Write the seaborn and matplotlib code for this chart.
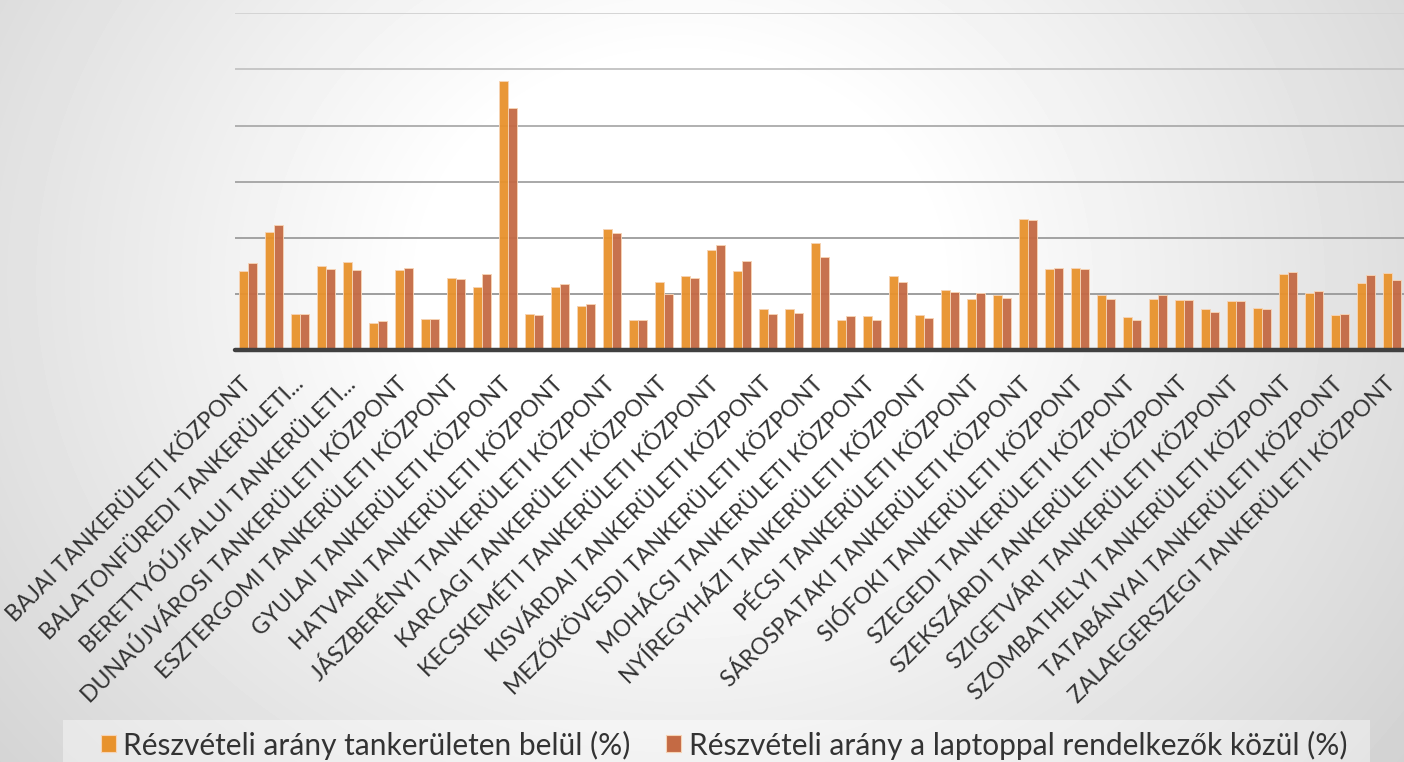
import numpy as np
import pandas as pd
import matplotlib
matplotlib.use("Agg")
import matplotlib.pyplot as plt
from matplotlib.patches import Patch, Rectangle
import seaborn as sns

# Tankerületi központok (csak minden második felirat látszik a tengelyen)
categories = [
    "BAJAI", "BALASSAGYARMATI", "BALATONFÜREDI", "BÉKÉSCSABAI", "BERETTYÓÚJFALUI",
    "DEBRECENI", "DUNAÚJVÁROSI", "EGRI", "ESZTERGOMI", "GYŐRI",
    "GYULAI", "HAJDÚBÖSZÖRMÉNYI", "HATVANI", "HÓDMEZŐVÁSÁRHELYI", "JÁSZBERÉNYI",
    "KAPOSVÁRI", "KARCAGI", "KAZINCBARCIKAI", "KECSKEMÉTI", "KISKUNHALASI",
    "KISVÁRDAI", "MÁTÉSZALKAI", "MEZŐKÖVESDI", "MISKOLCI", "MOHÁCSI",
    "NAGYKANIZSAI", "NYÍREGYHÁZI", "PÁPAI", "PÉCSI", "SALGÓTARJÁNI",
    "SÁROSPATAKI", "SÁRVÁRI", "SIÓFOKI", "SOPRONI", "SZEGEDI",
    "SZÉKESFEHÉRVÁRI", "SZEKSZÁRDI", "SZERENCSI", "SZIGETVÁRI", "SZOLNOKI",
    "SZOMBATHELYI", "TAPOLCAI", "TATABÁNYAI", "VESZPRÉMI", "ZALAEGERSZEGI",
]
categories = [c + " TANKERÜLETI KÖZPONT" for c in categories]

tick_labels = [
    "BAJAI TANKERÜLETI KÖZPONT", "BALATONFÜREDI TANKERÜLETI...",
    "BERETTYÓÚJFALUI TANKERÜLETI...", "DUNAÚJVÁROSI TANKERÜLETI KÖZPONT",
    "ESZTERGOMI TANKERÜLETI KÖZPONT", "GYULAI TANKERÜLETI KÖZPONT",
    "HATVANI TANKERÜLETI KÖZPONT", "JÁSZBERÉNYI TANKERÜLETI KÖZPONT",
    "KARCAGI TANKERÜLETI KÖZPONT", "KECSKEMÉTI TANKERÜLETI KÖZPONT",
    "KISVÁRDAI TANKERÜLETI KÖZPONT", "MEZŐKÖVESDI TANKERÜLETI KÖZPONT",
    "MOHÁCSI TANKERÜLETI KÖZPONT", "NYÍREGYHÁZI TANKERÜLETI KÖZPONT",
    "PÉCSI TANKERÜLETI KÖZPONT", "SÁROSPATAKI TANKERÜLETI KÖZPONT",
    "SIÓFOKI TANKERÜLETI KÖZPONT", "SZEGEDI TANKERÜLETI KÖZPONT",
    "SZEKSZÁRDI TANKERÜLETI KÖZPONT", "SZIGETVÁRI TANKERÜLETI KÖZPONT",
    "SZOMBATHELYI TANKERÜLETI KÖZPONT", "TATABÁNYAI TANKERÜLETI KÖZPONT",
    "ZALAEGERSZEGI TANKERÜLETI KÖZPONT",
]

# Részvételi arány tankerületen belül (%)
rate_district = [
    14.0, 21.1, 6.5, 14.9, 15.6, 4.9, 14.2, 5.5, 12.8, 11.2,
    47.9, 6.5, 11.2, 7.9, 21.6, 5.4, 12.1, 13.1, 17.9, 14.1,
    7.3, 7.3, 19.0, 5.4, 6.1, 13.1, 6.2, 10.7, 9.0, 9.8,
    23.4, 14.4, 14.7, 9.8, 5.8, 9.1, 8.9, 7.3, 8.8, 7.4,
    13.5, 10.2, 6.3, 12.0, 13.7,
]
# Részvételi arány a laptoppal rendelkezők közül (%)
rate_laptop = [
    15.5, 22.2, 6.4, 14.4, 14.2, 5.2, 14.6, 5.5, 12.6, 13.5,
    43.2, 6.2, 11.7, 8.2, 20.9, 5.4, 9.9, 12.8, 18.8, 15.9,
    6.4, 6.6, 16.6, 6.0, 5.4, 12.1, 5.7, 10.4, 10.2, 9.3,
    23.2, 14.7, 14.4, 9.0, 5.4, 9.8, 8.9, 6.7, 8.8, 7.3,
    13.9, 10.6, 6.4, 13.3, 12.4,
]

series_names = [
    "Részvételi arány tankerületen belül (%)",
    "Részvételi arány a laptoppal rendelkezők közül (%)",
]
colors = ["#E8922C", "#C46A44"]
grid_levels = [10, 20, 30, 40, 50, 60]
grid_colors = ["#9E9E9E", "#A2A2A2", "#A8A8A8", "#B0B0B0", "#C6C6C6", "#D4D4D4"]

df = pd.DataFrame({
    "tk": categories,
    series_names[0]: rate_district,
    series_names[1]: rate_laptop,
})
long_df = df.melt(id_vars="tk", var_name="sorozat", value_name="arany")

sns.set_theme(style="white")
plt.rcParams["font.family"] = ["Lato", "DejaVu Sans"]

W, H = 1404, 762
fig = plt.figure(figsize=(W / 100, H / 100), dpi=100)

# radiális szürke háttér
bg = fig.add_axes([0, 0, 1, 1], zorder=-10)
yy, xx = np.mgrid[0:H, 0:W]
r = np.sqrt(((xx - 680) / 1.15) ** 2 + (yy - 280) ** 2)
shade = 1 - 0.00031 * np.clip(r - 220, 0, None)
bg.imshow(shade, cmap="gray", vmin=0, vmax=1, aspect="auto", extent=(0, W, H, 0))
bg.set_axis_off()

ax = fig.add_axes([235 / W, 1 - 350 / H, 1170 / W, (350 - 13.3) / H])
ax.set_facecolor("none")

for lvl, gc in zip(grid_levels, grid_colors):
    ax.axhline(lvl, color=gc, linewidth=1.4, zorder=0)

sns.barplot(
    data=long_df, x="tk", y="arany", hue="sorozat",
    order=categories, hue_order=series_names,
    palette=dict(zip(series_names, colors)), saturation=1,
    width=0.7, alpha=0.95, edgecolor="#F6D3B4", linewidth=0.7,
    legend=False, ax=ax, zorder=3,
)

ax.set_xlim(-0.5, len(categories) - 0.5)
ax.set_ylim(0, 60)
ax.tick_params(axis="y", left=False, labelleft=False)
for s in ax.spines.values():
    s.set_visible(False)
ax.axhline(0, color="#404040", linewidth=3.2, zorder=5, clip_on=False)

ax.set_xticks(range(0, len(categories), 2))
ax.set_xticklabels(tick_labels, rotation=45, ha="right", va="center",
                   rotation_mode="anchor", fontsize=16.5, color="#333333")
ax.tick_params(axis="x", length=0, pad=22)
ax.set_xlabel("")
ax.set_ylabel("")

# jelmagyarázat háttérsávval
fig.patches.append(Rectangle((63 / W, 0), 1307 / W, 42 / H, transform=fig.transFigure,
                             facecolor="white", alpha=0.4, edgecolor="none", zorder=1))
handles = [Patch(facecolor=c, edgecolor="#F6D3B4", linewidth=0.8) for c in colors]
fig.legend(handles, series_names, loc="center", bbox_to_anchor=(724 / W, 1 - 745 / H),
           ncol=2, frameon=False, fontsize=21.5, labelcolor="#333333",
           handlelength=0.5, handleheight=0.5, handletextpad=0.25, columnspacing=1.2)

fig.savefig("out.png", dpi=100)
plt.close(fig)
